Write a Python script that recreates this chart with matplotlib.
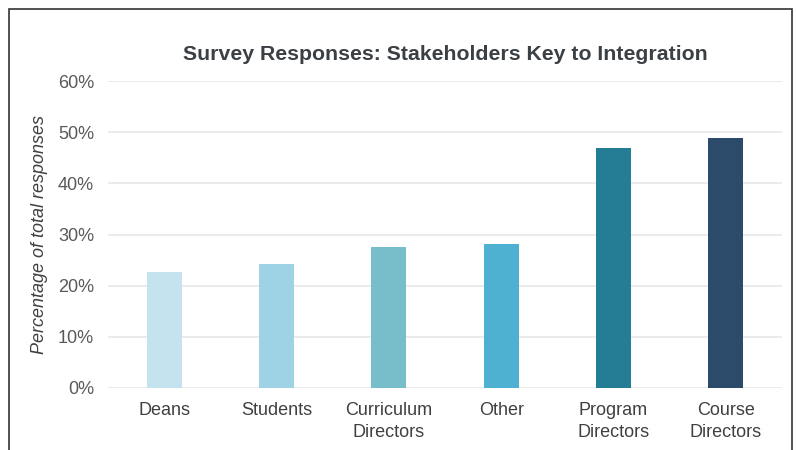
import matplotlib
matplotlib.use("Agg")
import matplotlib.pyplot as plt
from matplotlib.patches import Rectangle
from matplotlib.ticker import FuncFormatter

categories = ["Deans", "Students", "Curriculum\nDirectors", "Other", "Program\nDirectors", "Course\nDirectors"]
values = [22.7, 24.2, 27.6, 28.1, 46.9, 48.8]
colors = ["#c5e3ef", "#9dd3e5", "#77bdca", "#4eb1d2", "#247c95", "#2c4a6a"]
yticks = [0, 10, 20, 30, 40, 50, 60]
title = "Survey Responses: Stakeholders Key to Integration"
ylabel = "Percentage of total responses"

plt.rcParams['font.family'] = ['Liberation Sans', 'DejaVu Sans']

fig = plt.figure(figsize=(7.96, 4.5), dpi=100)
fig.patch.set_facecolor("white")
ax = fig.add_axes([108/796, 62/450, (782-108)/796, (388-81)/450])

x = list(range(len(categories)))
ax.bar(x, values, width=0.31, color=colors, zorder=3)
ax.set_xlim(-0.5, len(categories) - 0.5)
ax.set_ylim(0, 60)
ax.set_yticks(yticks)
ax.yaxis.set_major_formatter(FuncFormatter(lambda v, p: f"{int(v)}%"))
ax.set_xticks(x)
ax.set_xticklabels(categories, fontsize=13, color="#404040", linespacing=1.4)
ax.tick_params(axis="y", labelsize=13, labelcolor="#595959", length=0, pad=10)
ax.tick_params(axis="x", length=0, pad=10)
ax.grid(axis="y", color="#e8e8e8", linewidth=1.2, zorder=0)
for s in ax.spines.values():
    s.set_visible(False)

ax.set_ylabel(ylabel, fontsize=13, style="italic", color="#404040", labelpad=7)
fig.text(445/796, 1 - 55/450, title, ha="center", va="center",
         fontsize=15.3, fontweight="bold", color="#3b4045")

fig.patches.append(Rectangle((9/796, -0.1), (792-9)/796, 1.1 - 9/450,
                             transform=fig.transFigure, fill=False,
                             edgecolor="#333333", linewidth=1.2))

fig.savefig("out.png", dpi=100, facecolor="white")
